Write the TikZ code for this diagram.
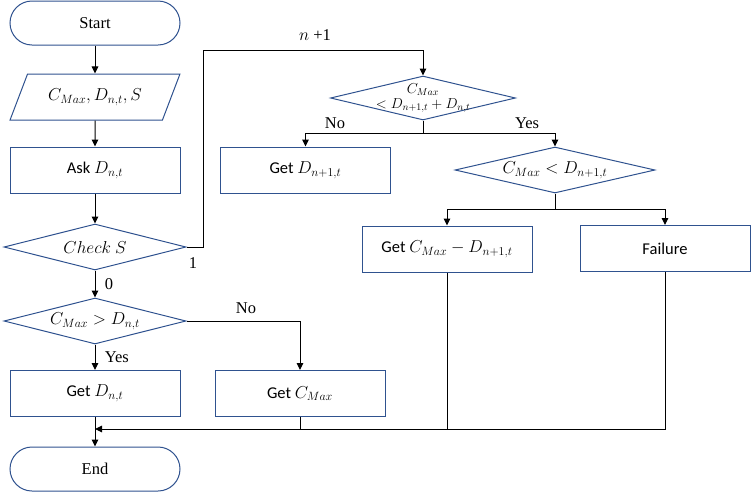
\documentclass[tikz,border=0pt]{standalone}
\usepackage{fontspec}
\setmainfont{Liberation Serif}
\setsansfont{Carlito}
\usetikzlibrary{shapes.geometric,arrows.meta}
\definecolor{boxblue}{RGB}{47,82,143}

\begin{document}
\begin{tikzpicture}[x=1pt, y=-1pt, >={Triangle[length=7pt,width=6.5pt]}, line width=1pt,
	term/.style={draw=boxblue, rounded corners=22pt, minimum width=170pt, minimum height=44pt, font=\fontsize{16.5}{19}\selectfont},
	io/.style={draw=boxblue, trapezium, trapezium left angle=54, trapezium right angle=126, trapezium stretches=true, minimum width=170pt, minimum height=46pt, inner sep=0pt, font=\fontsize{16.5}{19}\selectfont},
	proc/.style={draw=boxblue, rectangle, minimum width=170pt, minimum height=46pt, font=\sffamily\fontsize{16.5}{19}\selectfont},
	dec/.style={draw=boxblue, diamond, aspect=4, inner sep=0pt, minimum width=182pt, minimum height=46pt, font=\fontsize{16.5}{19}\selectfont},
	lbl/.style={font=\fontsize{16.5}{19}\selectfont}]
	\useasboundingbox (0,0) rectangle (751,493);
	% left column
	\node[term] (Start) at (95,23) {Start};
	\node[io] (In) at (95,97) {$C_{Max}, D_{n,t}, S$};
	\node[proc] (Ask) at (95,170) {Ask $D_{n,t}$};
	\node[dec] (Chk) at (95,247) {$Check\ S$};
	\node[dec] (Cmp) at (95,321) {$C_{Max} > D_{n,t}$};
	\node[proc] (GetD) at (95,393.5) {Get $D_{n,t}$};
	\node[proc] (GetC) at (300,393.5) {Get $C_{Max}$};
	\node[term] (End) at (95,469) {End};
	% right part
	\node[dec, minimum width=185pt, minimum height=44pt, inner ysep=-10pt, inner xsep=-10pt, align=center, font=\fontsize{14.5}{14.5}\selectfont] (Big) at (423,98) {$C_{Max}$\\$< D_{n+1,t} + D_{n,t}$};
	\node[proc] (GetDn) at (305.5,170) {Get $D_{n+1,t}$};
	\node[dec, minimum width=200pt] (Less) at (555,170) {$C_{Max} < D_{n+1,t}$};
	\node[proc] (GetCD) at (447,249) {Get $C_{Max} - D_{n+1,t}$};
	\node[proc] (Fail) at (665,248.5) {Failure};
	\coordinate (Loop) at (203,50);
	\coordinate (BSplit) at (423,133);
	\coordinate (LSplit) at (555,209);
	\coordinate (Merge) at (95,429);

	\draw[->] (Start) -- (In);
	\draw[->] (In) -- (Ask);
	\draw[->] (Ask) -- (Chk);
	\draw[->] (Chk.east) -| (Loop) -| (Big.north);
	\node[lbl] (One) at (193,263) {1};
	\node[lbl] (Next) at (315,35) {$n$ +1};
	\draw[->] (Chk) -- node[lbl, right, xshift=6pt] {0} (Cmp);
	\draw[->] (Cmp) -- node[lbl, right, xshift=6pt] {Yes} (GetD);
	\draw[->] (Cmp.east) -| (GetC.north);
	\node[lbl] (No) at (246,308) {No};
	\draw[->] (GetD) -- (End);
	\draw (Big.south) -- (BSplit);
	\draw[->] (BSplit) -| (GetDn.north);
	\draw[->] (BSplit) -| (Less.north);
	\node[lbl] (BNo) at (335,123) {No};
	\node[lbl] (BYes) at (527,123) {Yes};
	\draw (Less.south) -- (LSplit);
	\draw[->] (LSplit) -| (GetCD.north);
	\draw[->] (LSplit) -| (Fail.north);
	\draw[->] (Fail.south) |- (Merge);
	\draw (GetCD.south) -- (GetCD.south |- Merge);
	\draw (GetC.south) -- (GetC.south |- Merge);
\end{tikzpicture}
\end{document}
